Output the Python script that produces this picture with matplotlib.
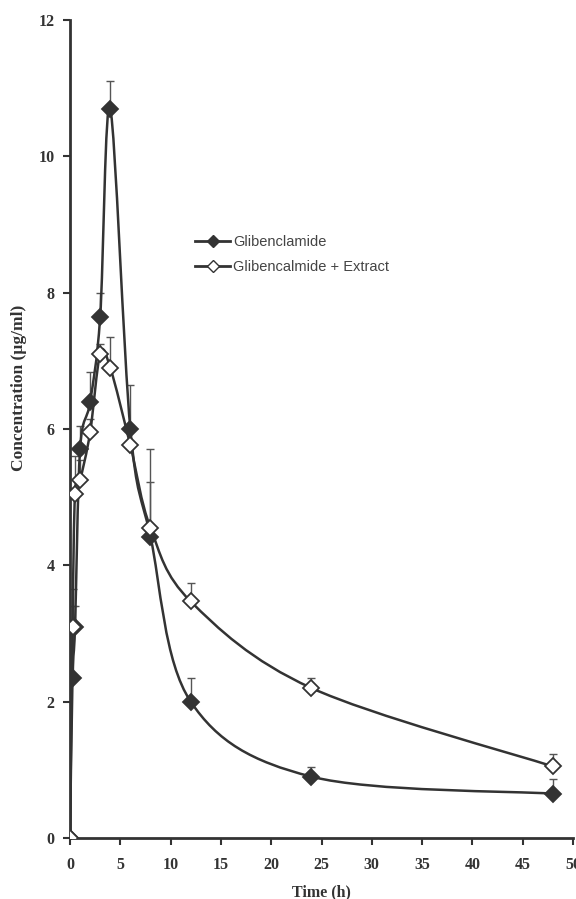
import numpy as np
import matplotlib
matplotlib.use("Agg")
import matplotlib.pyplot as plt
from matplotlib.path import Path
from matplotlib.patches import PathPatch
from matplotlib.lines import Line2D

# sampling times (h)
time_h = [0, 0.25, 0.5, 1, 2, 3, 4, 6, 8, 12, 24, 48]

# Glibenclamide alone
glib = [0, 2.35, 3.1, 5.7, 6.4, 7.65, 10.7, 6.0, 4.42, 2.0, 0.9, 0.65]
glib_err = [0, 1.3, 0.3, 0.35, 0.43, 0.35, 0.4, 0.65, 0.8, 0.35, 0.14, 0.22]

# Glibenclamide + extract
ext = [0, 3.1, 5.05, 5.25, 5.95, 7.1, 6.9, 5.76, 4.55, 3.47, 2.2, 1.05]
ext_err = [0, 0.3, 0.55, 0.3, 0.2, 0.15, 0.45, 0.3, 1.15, 0.27, 0.15, 0.18]

labels = ["Glibenclamide", "Glibencalmide + Extract"]
xticks = list(range(0, 55, 5))
yticks = list(range(0, 14, 2))

ink = "#333333"
serif = ["Liberation Serif", "DejaVu Serif"]


def smooth_path(xs, ys):
    # excel-like smoothed line: catmull-rom as cubic bezier segments
    pts = np.column_stack([xs, ys]).astype(float)
    n = len(pts)
    verts = [pts[0]]
    codes = [Path.MOVETO]
    for i in range(n - 1):
        p0 = pts[i - 1] if i > 0 else pts[i]
        p1 = pts[i]
        p2 = pts[i + 1]
        p3 = pts[i + 2] if i + 2 < n else pts[i + 1]
        c1 = p1 + (p2 - p0) / 6.0
        c2 = p2 - (p3 - p1) / 6.0
        verts += [c1, c2, p2]
        codes += [Path.CURVE4] * 3
    return Path(verts, codes)


fig = plt.figure(figsize=(5.76, 8.99), dpi=100)
ax = fig.add_axes([70 / 576, 61 / 899, 503 / 576, 818 / 899])

for ys, errs, face, z in [(glib, glib_err, ink, 4), (ext, ext_err, "white", 5)]:
    ax.errorbar(time_h, ys, yerr=[np.zeros(len(errs)), errs], fmt="none",
                ecolor="#555555", elinewidth=1.0, capsize=3, capthick=1.0, zorder=2)
    ax.add_patch(PathPatch(smooth_path(time_h, ys), facecolor="none",
                           edgecolor=ink, lw=1.8, zorder=3))
    ax.plot(time_h, ys, ls="none", marker="D", ms=8, mfc=face, mec=ink,
            mew=1.3, zorder=z)

ax.set_xlim(0, 50)
ax.set_ylim(0, 12)
ax.set_xticks(xticks)
ax.set_yticks(yticks)
for s in ["top", "right"]:
    ax.spines[s].set_visible(False)
for s in ["left", "bottom"]:
    ax.spines[s].set_linewidth(2.0)
    ax.spines[s].set_color(ink)
ax.tick_params(direction="out", length=5, width=1.5, color=ink)
ax.tick_params(axis="x", pad=9)
ax.tick_params(axis="y", pad=6)
for lab in ax.get_xticklabels() + ax.get_yticklabels():
    lab.set_fontfamily(serif)
    lab.set_fontweight("bold")
    lab.set_fontsize(11.5)
    lab.set_color("#333333")

ax.set_xlabel("Time (h)", fontfamily=serif, fontweight="bold", fontsize=11.5,
              color="#333333", labelpad=8)
ax.set_ylabel("Concentration (µg/ml)", fontfamily=serif, fontweight="bold",
              fontsize=12.5, color="#333333")
ax.yaxis.set_label_coords(-0.085, 0.55)

handles = [
    Line2D([], [], color=ink, lw=2, marker="D", ms=6, mfc=ink, mec=ink),
    Line2D([], [], color=ink, lw=2, marker="D", ms=6, mfc="white", mec=ink),
]
leg = ax.legend(handles, labels, loc="upper left",
                bbox_to_anchor=(188 / 576, 1 - 228 / 899),
                bbox_transform=fig.transFigure, frameon=False,
                prop={"family": ["Liberation Sans", "DejaVu Sans"], "size": 10.5},
                handlelength=2.4, handletextpad=0.2, labelspacing=0.75,
                borderpad=0)
for t in leg.get_texts():
    t.set_color("#444444")

fig.savefig("out.png", dpi=100)
